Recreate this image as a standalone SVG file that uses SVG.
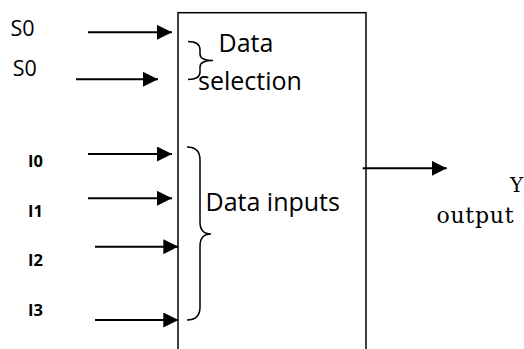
<svg xmlns="http://www.w3.org/2000/svg" width="524" height="349" viewBox="0 0 524 349">
<style>
.lbl{font-family:"Open Sans","Liberation Sans",sans-serif;fill:#000}
.big{font-size:25px}
.s{font-size:21.5px}
.i{font-size:16.5px;font-weight:bold}
.serif{font-family:"DejaVu Serif","Liberation Serif",serif;fill:#000}
.wire{stroke:#000;stroke-width:2;fill:none}
.brace{stroke:#000;stroke-width:1.5;fill:none}
</style>
<defs>
<marker id="ah" markerWidth="15" markerHeight="15" viewBox="0 0 15 15" refX="15" refY="7.5" orient="auto" markerUnits="userSpaceOnUse">
<path d="M0,0 L15,7.5 L0,15 Z" fill="#000"/>
</marker>
</defs>
<rect width="524" height="349" fill="#fff"/>
<g id="mux">
<rect x="178" y="12.7" width="188" height="350" fill="none" stroke="#000" stroke-width="1.5"/>
<path class="brace" d="M188,41.5 Q200,41.5 200,50 L200,54 Q200,60.5 213,60.5 Q200,60.5 200,67 L200,72 Q200,79.5 188,79.5"/>
<text class="lbl big" x="218.5" y="51.5">Data</text>
<text class="lbl big" x="198" y="89.5">selection</text>
<path class="brace" d="M187,147 Q200,147 200,160 L200,222 Q200,234 211,234 Q200,234 200,246 L200,307 Q200,320 187,320"/>
<text class="lbl big" x="205.5" y="210.7">Data inputs</text>
</g>
<g id="labels">
<text class="lbl s" x="10.5" y="36">S0</text>
<text class="lbl s" x="12.8" y="76">S0</text>
<text class="lbl i" x="28" y="166.7">I0</text>
<text class="lbl i" x="28" y="216.7">I1</text>
<text class="lbl i" x="28" y="265.7">I2</text>
<text class="lbl i" x="28" y="316">I3</text>
<text class="serif" font-size="20" x="510" y="192.3">Y</text>
<text class="serif" font-size="22" x="436.5" y="222.7" textLength="77">output</text>
</g>
<g id="connectors">
<line class="wire" x1="88" y1="32.3" x2="172" y2="32.3" marker-end="url(#ah)"/>
<line class="wire" x1="76" y1="79.3" x2="158" y2="79.3" marker-end="url(#ah)"/>
<line class="wire" x1="88" y1="154" x2="172" y2="154" marker-end="url(#ah)"/>
<line class="wire" x1="88" y1="198.3" x2="172" y2="198.3" marker-end="url(#ah)"/>
<line class="wire" x1="95" y1="246.7" x2="178.3" y2="246.7" marker-end="url(#ah)"/>
<line class="wire" x1="95" y1="320" x2="178.3" y2="320" marker-end="url(#ah)"/>
<line class="wire" x1="362.7" y1="168.3" x2="446.7" y2="168.3" marker-end="url(#ah)"/>
</g>
</svg>
